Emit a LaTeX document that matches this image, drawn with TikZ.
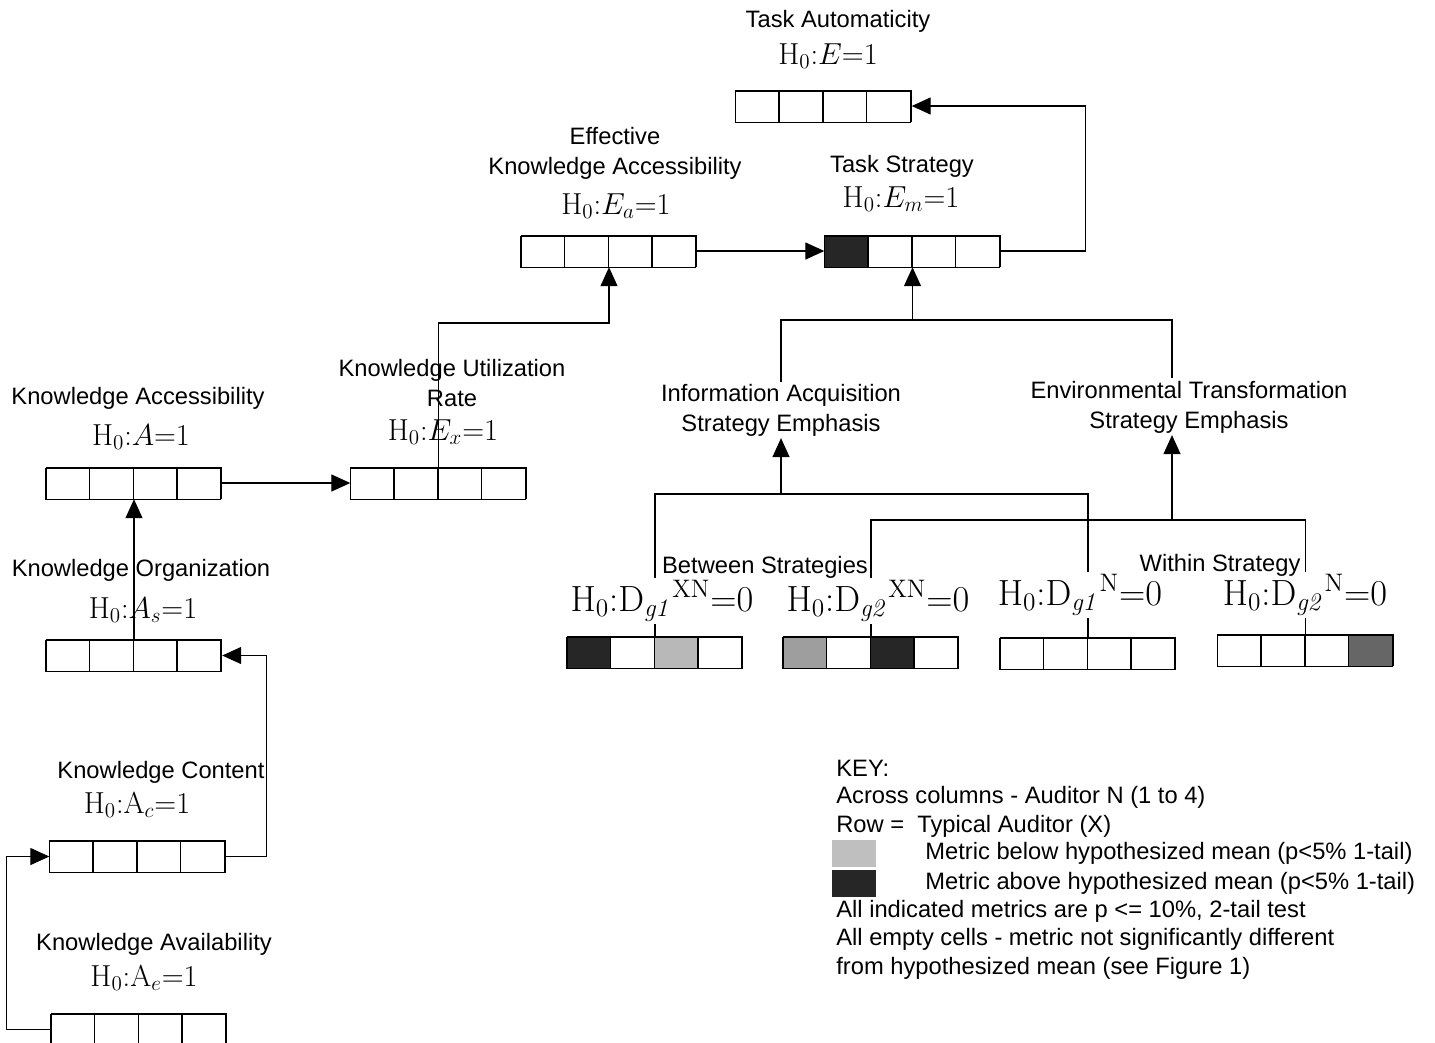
\documentclass[tikz,border=0pt]{standalone}
\usepackage[no-math]{fontspec}
\setmainfont{Liberation Sans}
\usetikzlibrary{arrows.meta}

\tikzset{
  lbl/.style={font=\fontsize{13.5}{14}\selectfont, align=center, inner sep=1pt},
  keytxt/.style={font=\fontsize{13.5}{14}\selectfont, anchor=west, inner sep=0pt},
  hyp/.style={font=\fontsize{16.5}{20}\selectfont, inner sep=1pt},
  dhyp/.style={font=\fontsize{19.5}{22}\selectfont, fill=white, inner sep=1.5pt},
  mbox/.style={draw, minimum width=3.5cm, minimum height=0.62cm, inner sep=0pt, line width=0.8pt},
  swatch/.style={minimum width=0.88cm, minimum height=0.54cm, inner sep=0pt},
  conn/.style={line width=0.7pt},
  arr/.style={conn, -{Triangle[length=0.38cm,width=0.34cm]}},
}
\colorlet{hicell}{black!85}

\newcommand{\metricbox}[6]{%
  \node[mbox] (#1) at (#2) {};
  \foreach \f [count=\i from 0] in {#3,#4,#5,#6}
    \draw[line width=0.8pt, fill=\f] ([xshift=\i*0.875cm]#1.south west) rectangle ++(0.875cm,0.62cm);
}

\begin{document}
\begin{tikzpicture}[x=0.02cm, y=-0.02cm]
	\useasboundingbox (0,0) rectangle (1435,1042);

	\metricbox{TA}{823.5,106}{white}{white}{white}{white}
	\metricbox{EKA}{609,251}{white}{white}{white}{white}
	\metricbox{TS}{912.5,251}{hicell}{white}{white}{white}
	\metricbox{KA}{134,483}{white}{white}{white}{white}
	\metricbox{KUR}{438.5,483}{white}{white}{white}{white}
	\metricbox{KO}{134,655.5}{white}{white}{white}{white}
	\metricbox{KC}{137.5,856.5}{white}{white}{white}{white}
	\metricbox{KAv}{139,1029.5}{white}{white}{white}{white}
	\metricbox{D1}{655,652.5}{hicell}{white}{black!28}{white}
	\metricbox{D2}{871,652}{black!38}{white}{hicell}{white}
	\metricbox{D3}{1088,653}{white}{white}{white}{white}
	\metricbox{D4}{1305.5,650}{white}{white}{white}{black!60}

	\node[lbl] (TAl) at (838,21) {Task Automaticity};
	\node[hyp] (TAh) at (828,56) {$\mathrm{H}_0{:}E{=}1$};
	\node[lbl] (EKAl) at (615,153) {Effective\\[3pt]Knowledge Accessibility};
	\node[hyp] (EKAh) at (616,206) {$\mathrm{H}_0{:}E_a{=}1$};
	\node[lbl] (TSl) at (902,166) {Task Strategy};
	\node[hyp] (TSh) at (901,199) {$\mathrm{H}_0{:}E_m{=}1$};
	\node[lbl] (KAl) at (138,398) {Knowledge Accessibility};
	\node[hyp] (KAh) at (141,437) {$\mathrm{H}_0{:}A{=}1$};
	\node[lbl] (KURl) at (452,383) {Knowledge Utilization\\[3pt]Rate};
	\node[hyp] (KURh) at (443,432) {$\mathrm{H}_0{:}E_x{=}1$};
	\node[lbl] (KOl) at (141,570) {Knowledge Organization};
	\node[hyp] (KOh) at (143,610) {$\mathrm{H}_0{:}A_s{=}1$};
	\node[lbl] (KCl) at (161,772) {Knowledge Content};
	\node[hyp] (KCh) at (137,805) {$\mathrm{H}_0{:}\mathrm{A}_c{=}1$};
	\node[lbl] (KAvl) at (154,944) {Knowledge Availability};
	\node[hyp] (KAvh) at (144,978) {$\mathrm{H}_0{:}\mathrm{A}_e{=}1$};
	\node[lbl] (IA) at (781,410) {Information Acquisition\\[3pt]Strategy Emphasis};
	\node[lbl] (ET) at (1189,407) {Environmental Transformation\\[3pt]Strategy Emphasis};

	\coordinate (tsj) at (912.5,320);
	\coordinate (etn) at (1172,378);
	\coordinate (iaj) at (781,494);
	\coordinate (etj) at (1172,520);

	\draw[arr] (EKA.east) -- (TS.west);
	\draw[arr] (TS.east) -- ++(85,0) |- (TA.east);
	\draw[arr] (KA.east) -- (KUR.west);
	\draw[arr] (KUR.north) -- (KUR.north |- 0,323) -| (EKA.south);
	\draw[arr] (KO.north) -- (KA.south);
	\draw[arr] (KC.east) -- ++(41,0) |- (KO.east);
	\draw[arr] (KAv.west) -- ++(-44,0) |- (KC.west);

	\draw[arr] (tsj) -- (TS.south);
	\draw[conn] (IA.north) |- (tsj) -| (etn);
	\draw[arr] (iaj) -- (IA.south);
	\draw[conn] (D1.north) |- (iaj) -| (D3.north);
	\draw[arr] (etj) -- (ET.south -| etj);
	\draw[conn] (D2.north) |- (etj) -| (D4.north);

	\node[dhyp] (D1h) at (662,601) {$\mathrm{H}_0{:}\mathrm{D}_{\mathit{g1}}{}^{\mathrm{XN}}{=}0$};
	\node[dhyp] (D2h) at (878,601) {$\mathrm{H}_0{:}\mathrm{D}_{\mathit{g2}}{}^{\mathrm{XN}}{=}0$};
	\node[dhyp] (D3h) at (1080,595) {$\mathrm{H}_0{:}\mathrm{D}_{\mathit{g1}}{}^{\mathrm{N}}{=}0$};
	\node[dhyp] (D4h) at (1305,595) {$\mathrm{H}_0{:}\mathrm{D}_{\mathit{g2}}{}^{\mathrm{N}}{=}0$};
	\node[lbl] (BS) at (765,567) {Between Strategies};
	\node[lbl] (WS) at (1220,565) {Within Strategy};

	\node[keytxt] (k1) at (836,768) {KEY:};
	\node[keytxt] (k2) at (836,797) {Across columns - Auditor N (1 to 4)};
	\node[keytxt] (k3) at (836,826) {Row =\ \ Typical Auditor (X)};
	\node[swatch, fill=black!25] (s1) at (854,853) {};
	\node[keytxt] (k4) at (925,853) {Metric below hypothesized mean (p<5\% 1-tail)};
	\node[swatch, fill=hicell] (s2) at (854,883) {};
	\node[keytxt] (k5) at (925,883) {Metric above hypothesized mean (p<5\% 1-tail)};
	\node[keytxt] (k6) at (836,911) {All indicated metrics are p <= 10\%, 2-tail test};
	\node[keytxt] (k7) at (836,939) {All empty cells - metric not significantly different};
	\node[keytxt] (k8) at (836,968) {from hypothesized mean (see Figure 1)};
\end{tikzpicture}
\end{document}
